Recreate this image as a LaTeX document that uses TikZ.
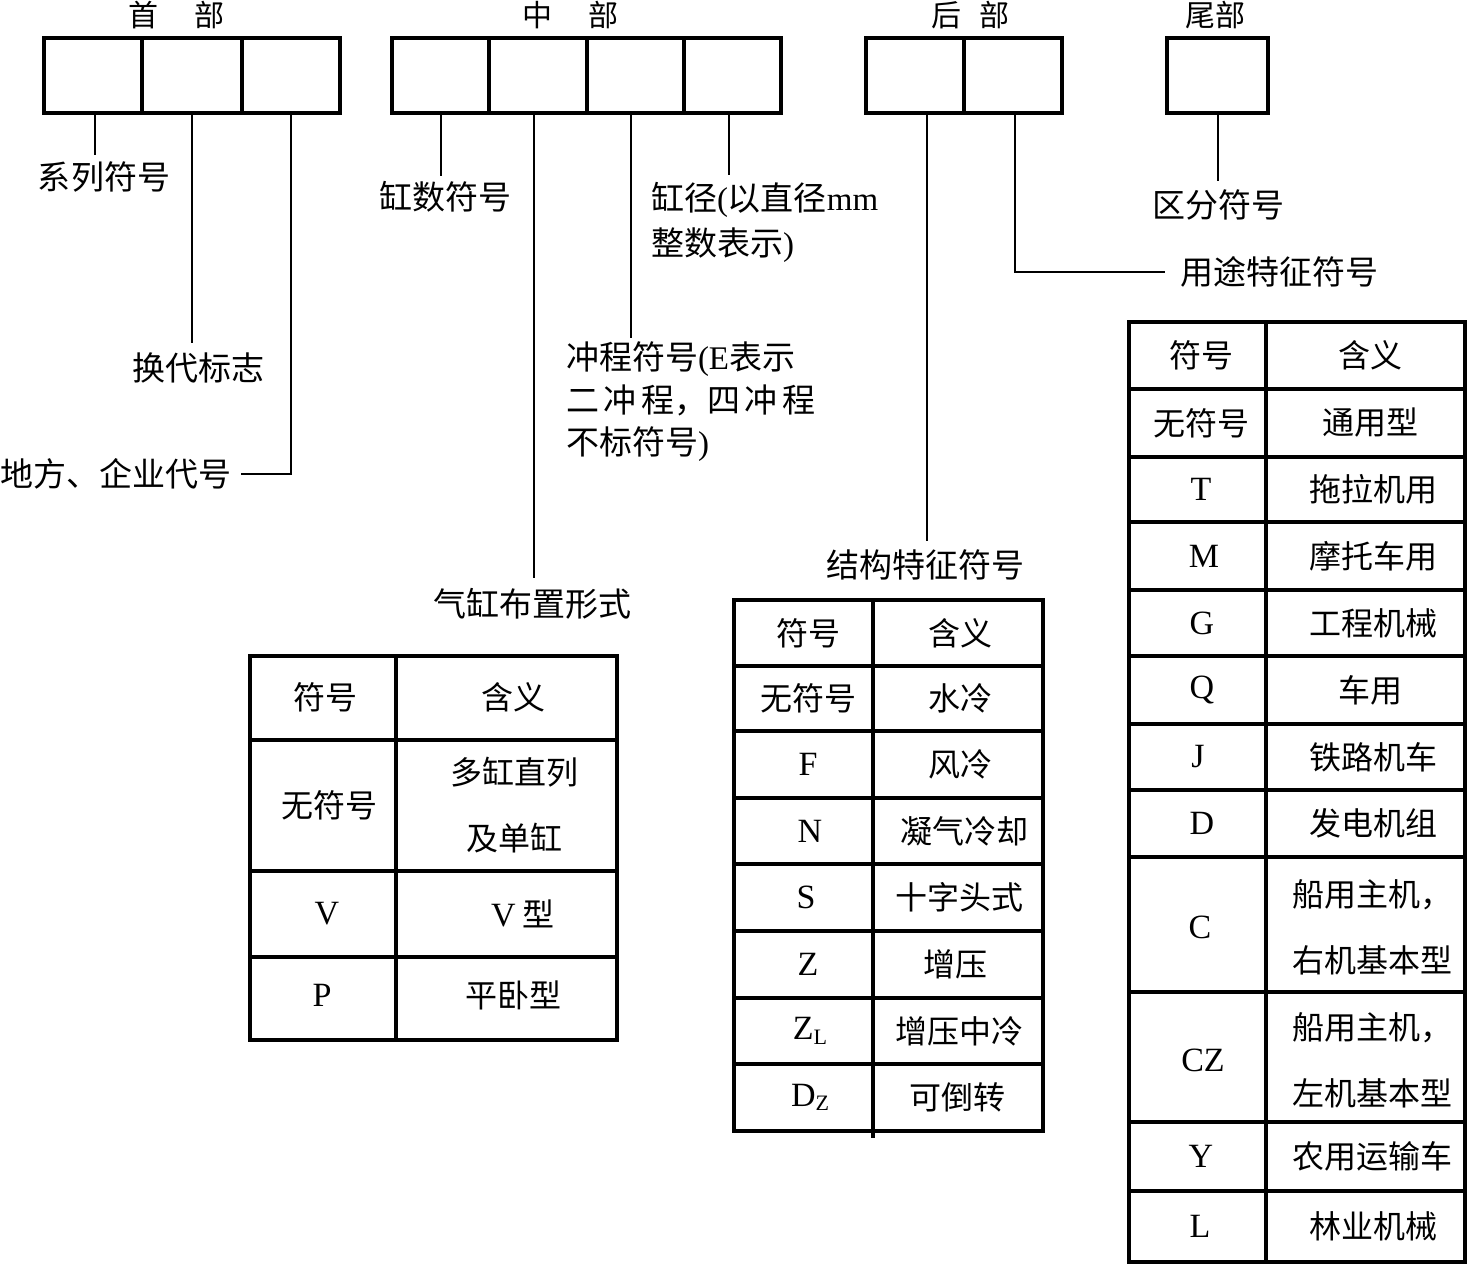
\documentclass[tikz,border=0pt]{standalone}
\usepackage{fontspec}
\setmainfont{Liberation Serif}
\newfontfamily\cjk{Noto Sans CJK SC}
\newcommand\latn[1]{{\rmfamily #1}}
\newcommand\gp{\hspace{2.3pt}}
\newcommand\subx[1]{\raisebox{-0.3ex}{\fontsize{11}{11}\selectfont #1}}
\tikzset{
  cell/.style={draw, line width=1.6pt, minimum height=37.5pt, inner sep=0pt, outer sep=0pt},
  lead/.style={line width=1pt},
  grid/.style={line width=1.6pt},
  txt/.style={inner sep=0pt, outer sep=0pt, font=\cjk\fontsize{16.5}{22}\selectfont, align=left},
  ttl/.style={inner sep=0pt, outer sep=0pt, font=\cjk\fontsize{15}{18}\selectfont},
  tc/.style={inner sep=0pt, outer sep=0pt, font=\cjk\fontsize{16}{33}\selectfont, align=center},
  lat/.style={inner sep=0pt, outer sep=0pt, font=\fontsize{17}{20}\selectfont},
}
\begin{document}
\begin{tikzpicture}[x=0.5pt,y=-0.5pt]
\useasboundingbox (0,0) rectangle (1467,1265);
% titles
\node[ttl] (tH) at (176,15) {首\hspace{18pt}部};
\node[ttl] (tM) at (570,15) {中\hspace{18pt}部};
\node[ttl] (tB) at (970,15) {后\hspace{9pt}部};
\node[ttl] (tW) at (1215,15) {尾部};
% boxes
\node[cell, minimum width=49pt] (h1) at (93,75.5) {};
\node[cell, minimum width=50pt] (h2) at (192,75.5) {};
\node[cell, minimum width=49pt] (h3) at (291,75.5) {};
\node[cell, minimum width=48.5pt] (m1) at (440.5,75.5) {};
\node[cell, minimum width=49pt] (m2) at (538,75.5) {};
\node[cell, minimum width=48.5pt] (m3) at (635.5,75.5) {};
\node[cell, minimum width=48.5pt] (m4) at (732.5,75.5) {};
\node[cell, minimum width=49pt] (b1) at (915,75.5) {};
\node[cell, minimum width=49pt] (b2) at (1013,75.5) {};
\node[cell, minimum width=50.5pt] (w1) at (1217.5,75.5) {};
% labels
\node[txt] (l1) at (104,177) {系列符号};
\node[txt] (l2) at (198,368) {换代标志};
\node[txt, anchor=west] (l3) at (0,474) {地方、企业代号};
\node[txt] (lm1) at (445,197) {缸数符号};
\node[txt] (lm2) at (532,604) {气缸布置形式};
\node[txt, anchor=west, font=\cjk\fontsize{16.5}{21.25}\selectfont] (lm3) at (566,402) {冲程符号\latn{(E}表示\\二\gp 冲\gp 程，四\gp 冲\gp 程\\不标符号\latn{)}};
\node[txt, anchor=west, font=\cjk\fontsize{16.5}{22.5}\selectfont] (lm4) at (651,222.5) {缸径\latn{(}以直径\latn{mm}\\整数表示\latn{)}};
\node[txt] (lb1) at (925.5,565) {结构特征符号};
\node[txt, anchor=west] (lb2) at (1180,272) {用途特征符号};
\node[txt] (lw1) at (1218,205) {区分符号};
% leaders
\draw[lead, shorten >=3.5pt] (h1.south -| 95,0) -- (95,0 |- l1.north);
\draw[lead, shorten >=5pt] (h2.south) -- (h2.south |- l2.north);
\draw[lead, shorten >=5pt] (h3.south) |- (l3.east);
\draw[lead, shorten >=3pt] (m1.south) -- (m1.south |- lm1.north);
\draw[lead, shorten >=5pt] (m2.south -| 534,0) -- (534,0 |- lm2.north);
\draw[lead] (m3.south -| 631,0) -- (631,338);
\draw[lead] (m4.south -| 729,0) -- (729,175);
\draw[lead, shorten >=4.5pt] (b1.south -| 927,0) -- (927,0 |- lb1.north);
\draw[lead, shorten >=7.5pt] (b2.south -| 1015,0) |- (lb2.west);
\draw[lead, shorten >=4.5pt] (w1.south) -- (w1.south |- lw1.north);
% table 1
\draw[grid] (250,656) rectangle (617,1040);
\foreach \yy in {740,871,957} \draw[grid] (250,\yy) -- (617,\yy);
\draw[grid] (396,656) -- (396,1040);
\node[tc] (a0) at (325,697) {符号};
\node[tc] (a1) at (513,697) {含义};
\node[tc] (a2) at (329,805) {无符号};
\node[tc] (a3) at (514,805) {多缸直列\\及单缸};
\node[lat] (a4) at (327,914) {V};
\node[tc] (a5) at (523,914) {\latn{\fontsize{17}{20}\selectfont V} 型};
\node[lat] (a6) at (322,995) {P};
\node[tc] (a7) at (513,995) {平卧型};
% table 2
\draw[grid] (734,600) rectangle (1043,1131);
\foreach \yy in {666,731,798,864,931,998,1064} \draw[grid] (734,\yy) -- (1043,\yy);
\draw[grid] (873,600) -- (873,1138);
\node[tc] (c0) at (808,633) {符号};
\node[tc] (d0) at (960,633) {含义};
\node[tc] (c1) at (808,698.5) {无符号};
\node[tc] (d1) at (960,698.5) {水冷};
\node[lat] (c2) at (808,764.5) {F};
\node[tc] (d2) at (960,764.5) {风冷};
\node[lat] (c3) at (810,831) {N};
\node[tc] (d3) at (964,831) {凝气冷却};
\node[lat] (c4) at (806,897.5) {S};
\node[tc] (d4) at (959,897.5) {十字头式};
\node[lat] (c5) at (808,964.5) {Z};
\node[tc] (d5) at (955,964.5) {增压};
\node[lat] (c6) at (810,1031) {Z\subx{L}};
\node[tc] (d6) at (959,1031) {增压中冷};
\node[lat] (c7) at (810,1097.5) {D\subx{Z}};
\node[tc] (d7) at (957,1097.5) {可倒转};
% table 3
\draw[grid] (1129,322) rectangle (1465,1262);
\foreach \yy in {389,457,522,590,656,724,790,857,992,1122,1191} \draw[grid] (1129,\yy) -- (1465,\yy);
\draw[grid] (1266,322) -- (1266,1262);
\node[tc] (e0) at (1201,355.5) {符号};
\node[tc] (f0) at (1370,355.5) {含义};
\node[tc] (e1) at (1201,423) {无符号};
\node[tc] (f1) at (1370,423) {通用型};
\node[lat] (e2) at (1201,489.5) {T};
\node[tc] (f2) at (1373,489.5) {拖拉机用};
\node[lat] (e3) at (1204,556) {M};
\node[tc] (f3) at (1373,556) {摩托车用};
\node[lat] (e4) at (1202,623) {G};
\node[tc] (f4) at (1373,623) {工程机械};
\node[lat] (e5) at (1202,690) {Q};
\node[tc] (f5) at (1370,690) {车用};
\node[lat] (e6) at (1198,757) {J};
\node[tc] (f6) at (1373,757) {铁路机车};
\node[lat] (e7) at (1202,823.5) {D};
\node[tc] (f7) at (1373,823.5) {发电机组};
\node[lat] (e8) at (1200,927) {C};
\node[tc, align=left] (f8) at (1372,927) {船用主机，\\右机基本型};
\node[lat] (e9) at (1203,1060) {CZ};
\node[tc, align=left] (f9) at (1372,1060) {船用主机，\\左机基本型};
\node[lat] (e10) at (1201,1156.5) {Y};
\node[tc] (f10) at (1372,1156.5) {农用运输车};
\node[lat] (e11) at (1200,1226.5) {L};
\node[tc] (f11) at (1373,1226.5) {林业机械};
\end{tikzpicture}
\end{document}
